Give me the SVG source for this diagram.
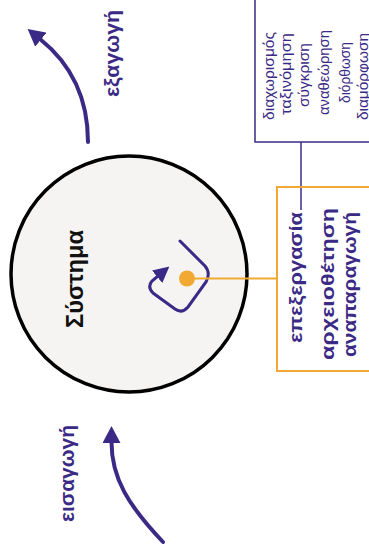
<svg xmlns="http://www.w3.org/2000/svg" width="369" height="550" viewBox="0 0 369 550">
<style>
.p{fill:#3b2a85;font-family:"Liberation Sans",Arial,sans-serif}
.b{font-weight:bold}
.flow{fill:none;stroke:#3b2a85;stroke-width:4;stroke-linecap:round}
</style>
<defs>
<marker id="ah" markerUnits="userSpaceOnUse" markerWidth="18" markerHeight="18" refX="1" refY="8.5" orient="auto" viewBox="0 0 17 17">
<path d="M0,0 L16,8.5 L0,17 z" fill="#3b2a85"/>
</marker>
<marker id="ah2" markerUnits="userSpaceOnUse" markerWidth="16" markerHeight="16" refX="1" refY="7" orient="auto" viewBox="0 0 14 14">
<path d="M0,0 L14,7 L0,14 z" fill="#3b2a85"/>
</marker>
</defs>
<rect width="369" height="550" fill="#fff"/>
<g id="system">
<circle cx="129" cy="274" r="118" fill="#f5f4f3" stroke="#000" stroke-width="3.5"/>
<text class="b" font-family="Liberation Sans,Arial,sans-serif" font-size="23" fill="#111" text-anchor="middle" transform="translate(83,279) rotate(-90)" textLength="98" lengthAdjust="spacingAndGlyphs">Σύστημα</text>
<path d="M180,241 L205,266 Q211,273 206,282 L188,307 Q182,314 175,309 L153,293 Q147,287 152,281 L158,276" fill="none" stroke="#3b2a85" stroke-width="3" stroke-linecap="round" marker-end="url(#ah2)"/>
</g>
<g id="connectors">
<path class="flow" d="M88,142 C88,95 70,63 40,39" marker-end="url(#ah)"/>
<path class="flow" d="M163,542 C128,505 111.5,478 111.5,442" marker-end="url(#ah)"/>
<line x1="187" y1="278.5" x2="277" y2="278.5" stroke="#f2a933" stroke-width="2"/>
<line x1="301" y1="142" x2="301" y2="210" stroke="#3b2a85" stroke-width="1.5"/>
</g>
<g id="dot">
<circle cx="187" cy="278.5" r="8" fill="#f2a933"/>
</g>
<g id="output-label">
<text class="p b" font-size="21" text-anchor="middle" transform="translate(119,53.5) rotate(-90)" textLength="87" lengthAdjust="spacingAndGlyphs">εξαγωγή</text>
</g>
<g id="input-label">
<text class="p b" font-size="21" text-anchor="middle" transform="translate(74,473.5) rotate(-90)" textLength="97" lengthAdjust="spacingAndGlyphs">εισαγωγή</text>
</g>
<g id="functions">
<rect x="277" y="187" width="110" height="184" fill="none" stroke="#f2a933" stroke-width="2"/>
<text class="p b" font-size="19" text-anchor="middle" transform="translate(302,277.5) rotate(-90)" textLength="131" lengthAdjust="spacingAndGlyphs">επεξεργασία</text>
<text class="p b" font-size="19" text-anchor="middle" transform="translate(334,284) rotate(-90)" textLength="152" lengthAdjust="spacingAndGlyphs">αρχειοθέτηση</text>
<text class="p b" font-size="19" text-anchor="middle" transform="translate(356,284.5) rotate(-90)" textLength="145" lengthAdjust="spacingAndGlyphs">αναπαραγωγή</text>
</g>
<g id="processing">
<rect x="255" y="-10" width="130" height="152" fill="none" stroke="#3b2a85" stroke-width="1.5"/>
<text class="p" font-size="14" text-anchor="middle" transform="translate(273.5,76) rotate(-90)" textLength="88" lengthAdjust="spacingAndGlyphs">διαχωρισμός</text>
<text class="p" font-size="14" text-anchor="middle" transform="translate(291,74) rotate(-90)" textLength="82" lengthAdjust="spacingAndGlyphs">ταξινόμηση</text>
<text class="p" font-size="14" text-anchor="middle" transform="translate(309,75) rotate(-90)" textLength="64" lengthAdjust="spacingAndGlyphs">σύγκριση</text>
<text class="p" font-size="14" text-anchor="middle" transform="translate(329,72.5) rotate(-90)" textLength="85" lengthAdjust="spacingAndGlyphs">αναθεώρηση</text>
<text class="p" font-size="14" text-anchor="middle" transform="translate(350,72.5) rotate(-90)" textLength="61" lengthAdjust="spacingAndGlyphs">διόρθωση</text>
<text class="p" font-size="14" text-anchor="middle" transform="translate(367.5,76.5) rotate(-90)" textLength="87" lengthAdjust="spacingAndGlyphs">διαμόρφωση</text>
</g>
</svg>
